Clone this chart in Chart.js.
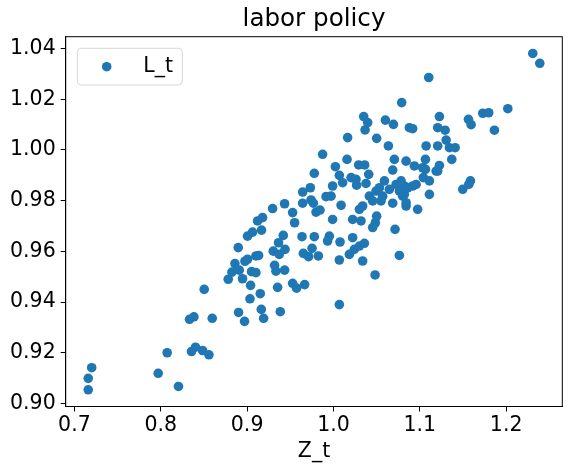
<!DOCTYPE html>
<html>
<head>
<meta charset="utf-8">
<script src="https://cdn.jsdelivr.net/npm/chart.js@4.4.1/dist/chart.umd.min.js"></script>
<style>
  html, body { margin: 0; padding: 0; background: #fff; }
  #wrap { width: 572px; height: 473px; }
</style>
</head>
<body>
<div id="wrap"><canvas id="chart" width="572" height="473"></canvas></div>
<script>
// labor policy: L_t against Z_t
const zt = [
  0.720, 0.716, 0.716, 0.797, 0.8205, 0.8074, 0.8356, 0.8402, 0.8484, 0.8558,
  0.8333, 0.8384, 0.8596, 0.8503, 0.8901, 0.897, 0.8897, 0.8781, 0.8824, 0.8859,
  0.8947, 0.8975, 0.9005, 0.904, 0.9033, 0.9051, 0.9102, 0.9164, 0.9191, 0.9384,
  0.9152, 0.9353, 0.9527, 0.9573, 0.9666, 0.9102, 0.9005, 0.9063, 0.9121, 0.9179,
  0.9167, 0.9295, 0.9434, 0.9527, 0.955, 0.9643, 0.9732, 0.9643, 0.974, 0.9767,
  0.9798, 0.9844, 0.9914, 0.9972, 0.999, 1.0088, 1.0106, 0.999, 0.9419, 0.9364,
  0.9303, 0.9372, 0.9439, 0.9318, 0.9334, 0.9434, 0.9133, 0.9636, 0.9778, 0.9651,
  0.9712, 0.9752, 0.9825, 0.9952, 0.9932, 1.0076, 1.0068, 1.0068, 0.8909, 1.079,
  1.035, 1.0396, 1.0366, 1.0601, 1.0694, 1.0879, 1.0917, 1.0164, 1.05, 1.0636,
  0.9874, 1.0157, 1.0022, 1.0292, 1.0361, 1.0408, 1.0068, 1.0204, 1.0261, 1.0268,
  1.0377, 0.9778, 1.059, 1.0705, 1.0686, 1.0841, 1.0937, 1.1065, 1.1073, 1.1065,
  1.1189, 1.1041, 1.1111, 1.0493, 1.0532, 1.057, 1.0647, 1.0725, 1.0763, 1.0802,
  1.0821, 1.086, 1.0917, 1.0957, 1.0416, 1.0454, 1.0551, 1.0686, 1.0841, 1.0975,
  1.1111, 1.0338, 1.030, 1.0222, 1.0319, 1.05, 1.0485, 1.0454, 1.0713, 1.0222,
  1.0184, 1.0242, 1.030, 1.0358, 1.0338, 1.0763, 1.0482, 1.2308, 1.2389, 1.1103,
  1.2019, 1.1729, 1.1798, 1.1563, 1.1594, 1.1227, 1.1864, 1.1207, 1.1293, 1.1305,
  1.1207, 1.1343, 1.1409, 1.137, 1.1033, 1.1227, 1.1207, 1.0783, 1.0821, 1.0841,
  1.1497, 1.1567, 1.1586
];
const lt = [
  0.9141, 0.9099, 0.9054, 0.9119, 0.9067, 0.920, 0.9205, 0.9222, 0.9209, 0.9192,
  0.9332, 0.9342, 0.9336, 0.945, 0.9359, 0.9324, 0.9615, 0.949, 0.9518, 0.9552,
  0.9492, 0.9561, 0.966, 0.9466, 0.9413, 0.952, 0.9582, 0.9371, 0.9336, 0.9362,
  0.9433, 0.9458, 0.9474, 0.9455, 0.9469, 0.9516, 0.9569, 0.9676, 0.972, 0.9733,
  0.9684, 0.9769, 0.9788, 0.9753, 0.9713, 0.9834, 0.9851, 0.979, 0.9803, 0.979,
  0.9755, 0.9763, 0.9816, 0.9818, 0.9858, 0.9782, 0.9871, 0.9726, 0.9663, 0.9634,
  0.9601, 0.9588, 0.9608, 0.9545, 0.9522, 0.9526, 0.9584, 0.9658, 0.9658, 0.9592,
  0.9579, 0.9612, 0.9582, 0.966, 0.9641, 0.9637, 0.9566, 0.939, 0.9526, 1.0187,
  1.0132, 1.0108, 1.0079, 1.0118, 1.0101, 1.0088, 1.0084, 1.0049, 1.0046, 1.0016,
  0.9983, 0.9963, 0.9934, 0.9941, 0.9941, 0.9904, 0.990, 0.9891, 0.9884, 0.9861,
  0.9868, 0.9908, 0.9878, 0.9963, 0.9921, 0.9956, 0.9937, 0.9963, 1.0016, 0.9924,
  0.9917, 0.9891, 0.9878, 0.9838, 0.9851, 0.9818, 0.9845, 0.9864, 0.9838, 0.9818,
  0.9858, 0.9851, 0.9858, 0.9864, 0.9818, 0.9799, 0.9799, 0.979, 0.9779, 0.9766,
  0.9825, 0.9779, 0.9766, 0.9726, 0.972, 0.9739, 0.9713, 0.9694, 0.9687, 0.9654,
  0.9588, 0.9608, 0.9621, 0.9632, 0.9562, 0.9584, 0.9507, 1.0381, 1.0342, 1.0286,
  1.0163, 1.0145, 1.0147, 1.0121, 1.010, 1.0132, 1.0078, 1.0088, 1.0078, 1.0039,
  1.0016, 1.0009, 1.0009, 0.9963, 0.993, 0.9939, 0.9917, 0.9878, 0.9825, 0.9792,
  0.9845, 0.9864, 0.9878
];
const xTicks = [0.7, 0.8, 0.9, 1.0, 1.1, 1.2];
const yTicks = [0.90, 0.92, 0.94, 0.96, 0.98, 1.00, 1.02, 1.04];

const FONT = 'DejaVu Sans';
const BLUE = '#1f77b4';
const tickFont = { family: FONT, size: 20.5 };

// frame, title and the matplotlib-style legend box
const decorations = {
    id: 'decorations',
    afterDraw(chart) {
        const ctx = chart.ctx;
        const a = chart.chartArea;
        ctx.save();
        ctx.strokeStyle = '#000';
        ctx.lineWidth = 1;
        ctx.strokeRect(a.left, a.top, a.right - a.left, a.bottom - a.top);

        ctx.fillStyle = '#000';
        ctx.font = '24.6px "' + FONT + '"';
        ctx.textAlign = 'center';
        ctx.textBaseline = 'middle';
        ctx.fillText('labor policy', (a.left + a.right) / 2, 20);

        // legend
        const bx = a.left + 11.6, by = a.top + 11.6, bw = 105, bh = 36.7, r = 4;
        ctx.beginPath();
        ctx.moveTo(bx + r, by);
        ctx.arcTo(bx + bw, by, bx + bw, by + bh, r);
        ctx.arcTo(bx + bw, by + bh, bx, by + bh, r);
        ctx.arcTo(bx, by + bh, bx, by, r);
        ctx.arcTo(bx, by, bx + bw, by, r);
        ctx.closePath();
        ctx.fillStyle = 'rgba(255,255,255,0.8)';
        ctx.fill();
        ctx.strokeStyle = 'rgba(204,204,204,0.8)';
        ctx.stroke();

        const ds = chart.data.datasets[0];
        ctx.beginPath();
        ctx.arc(bx + 29.4, by + 18.4, 4.8, 0, Math.PI * 2);
        ctx.fillStyle = ds.backgroundColor;
        ctx.fill();

        ctx.fillStyle = '#000';
        ctx.font = '20.5px "' + FONT + '"';
        ctx.textAlign = 'left';
        ctx.fillText(ds.label, bx + 66, by + 18.4);
        ctx.restore();
    }
};

document.addEventListener('DOMContentLoaded', function() {
    const ctx = document.getElementById('chart').getContext('2d');
    new Chart(ctx, {
        type: 'scatter',
        data: {
            datasets: [{
                label: 'L_t',
                data: zt.map((x, i) => ({ x: x, y: lt[i] })),
                backgroundColor: BLUE,
                borderColor: BLUE,
                borderWidth: 0,
                pointRadius: 4.8,
                pointHoverRadius: 4.8
            }]
        },
        options: {
            responsive: false,
            animation: false,
            devicePixelRatio: 1,
            layout: { padding: { top: 36.7, right: 9.7, left: 0, bottom: 0 } },
            plugins: {
                legend: { display: false },
                title: { display: false },
                tooltip: { enabled: false }
            },
            scales: {
                x: {
                    type: 'linear',
                    min: 0.6899,
                    max: 1.265,
                    afterBuildTicks: s => { s.ticks = xTicks.map(v => ({ value: v })); },
                    afterFit: s => { s.height = 66.5; },
                    ticks: {
                        callback: v => v.toFixed(1),
                        font: tickFont,
                        color: '#000',
                        padding: 2,
                        maxRotation: 0,
                        autoSkip: false
                    },
                    grid: {
                        display: true,
                        drawOnChartArea: false,
                        drawTicks: true,
                        tickLength: 5,
                        color: '#000'
                    },
                    border: { display: true, color: '#000', width: 1 },
                    title: {
                        display: true,
                        text: 'Z_t',
                        font: tickFont,
                        color: '#000',
                        padding: { top: 9, bottom: 9 }
                    }
                },
                y: {
                    type: 'linear',
                    min: 0.8988,
                    max: 1.0447,
                    afterBuildTicks: s => { s.ticks = yTicks.map(v => ({ value: v })); },
                    afterFit: s => { s.width = 65.7; },
                    ticks: {
                        callback: v => v.toFixed(2),
                        font: tickFont,
                        color: '#000',
                        padding: 5,
                        autoSkip: false
                    },
                    grid: {
                        display: true,
                        drawOnChartArea: false,
                        drawTicks: true,
                        tickLength: 5,
                        color: '#000'
                    },
                    border: { display: true, color: '#000', width: 1 }
                }
            }
        },
        plugins: [decorations]
    });
});
</script>
</body>
</html>
